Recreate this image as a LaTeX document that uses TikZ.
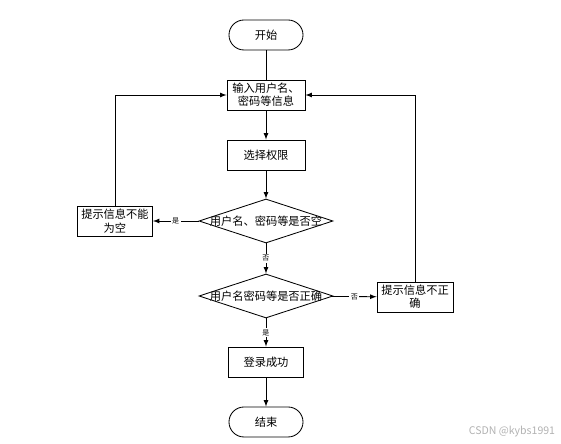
\documentclass[tikz,border=0pt]{standalone}
\usepackage{fontspec}
\setmainfont{Noto Sans CJK SC}
\usetikzlibrary{shapes.geometric}

\tikzset{
  term/.style={draw, line width=0.6pt, rounded corners=0.375cm, minimum width=1.85cm, minimum height=0.75cm, inner sep=0pt},
  procbox/.style={draw, line width=0.6pt, minimum width=1.95cm, minimum height=0.75cm, inner sep=1pt, align=center},
  decision/.style={draw, diamond, line width=0.6pt, minimum width=3.35cm, minimum height=1.1cm, inner sep=0pt},
  flow/.style={line width=0.6pt, -latex},
  cond/.style={fill=white, inner sep=1pt, font=\fontsize{5}{6}\selectfont}
}

\begin{document}
\begin{tikzpicture}[x=0.025cm, y=-0.025cm, font=\fontsize{8}{9.5}\selectfont]
		\useasboundingbox (0,0) rectangle (561,444);
		
		% Main column
		\node[term] (start) at (266,35) {开始};
		\node[procbox] (input) at (266,95) {输入用户名、\\密码等信息};
		\node[procbox] (role) at (266,155) {选择权限};
		\node[decision] (empty) at (266,221) {\makebox[0pt]{用户名、密码等是否空}};
		\node[decision] (check) at (266,296) {\makebox[0pt]{用户名密码等是否正确}};
		\node[procbox, minimum width=1.875cm] (ok) at (266,362) {登录成功};
		\node[term] (stop) at (266,422) {结束};
		
		% Side boxes
		\node[procbox, minimum width=1.875cm] (noempty) at (115,221) {提示信息不能\\为空};
		\node[procbox, minimum width=1.9cm] (wrong) at (415,297) {提示信息不正\\确};
		
		% Connectors
		\draw[line width=0.6pt] (start) -- (input);
		\draw[flow] (input) -- (role);
		\draw[flow] (role) -- (empty);
		\draw[flow] (empty) -- node[cond] {否} (check);
		\draw[flow] (check) -- node[cond] {是} (ok);
		\draw[flow] (ok) -- (stop);
		\draw[flow] (empty) -- node[cond] {是} (noempty);
		\draw[flow] (check) -- node[cond] {否} (wrong);
		
		% Back to input
		\draw[flow] (noempty.north) |- (input.west);
		\draw[flow] (wrong.north) |- (input.east);
		
		% Watermark
		\node[text=black!30, font=\fontsize{7.5}{9}\selectfont] (mark) at (512,432) {CSDN @kybs1991};
	\end{tikzpicture}
\end{document}
